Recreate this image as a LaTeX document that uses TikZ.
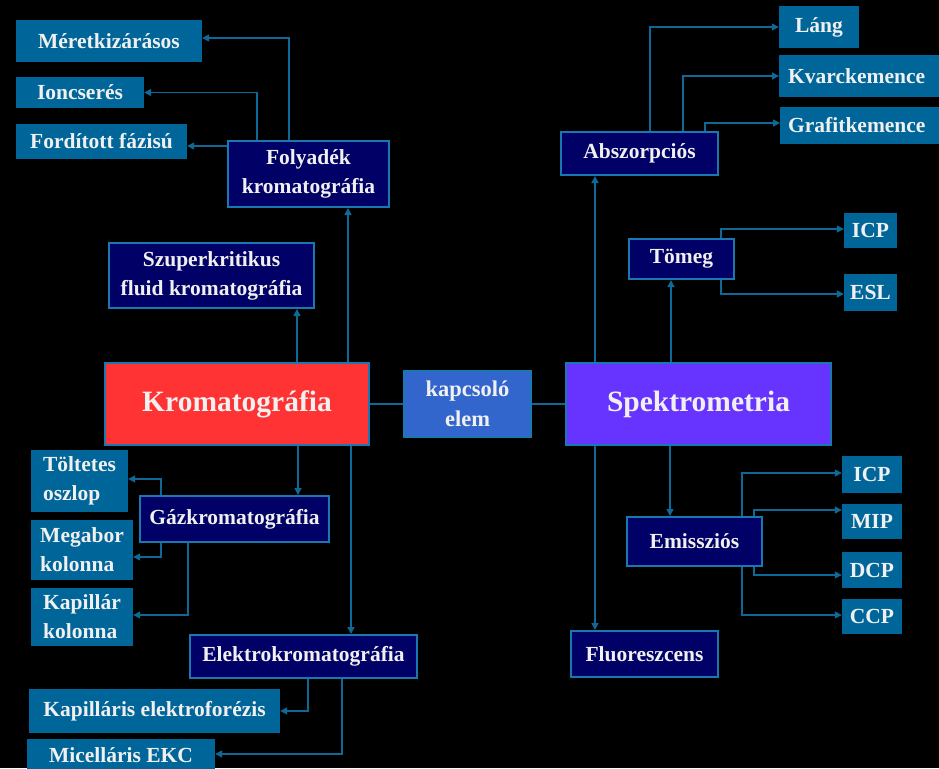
\documentclass[tikz,border=0pt]{standalone}
\usepackage{fontspec}
\setmainfont{Liberation Serif}
\usetikzlibrary{arrows.meta}
\definecolor{lboxc}{RGB}{0,102,153}
\definecolor{dboxc}{RGB}{0,0,102}
\definecolor{dbord}{RGB}{25,120,175}
\definecolor{linec}{RGB}{15,105,150}
\definecolor{txtc}{RGB}{240,240,240}
\definecolor{kromc}{RGB}{255,51,51}
\definecolor{kapc}{RGB}{51,102,204}
\definecolor{spekc}{RGB}{102,51,255}
\begin{document}
\begin{tikzpicture}[x=1pt,y=-1pt,
 base/.style={rectangle, inner sep=0pt, text=txtc, font=\bfseries\fontsize{21.5}{29}\selectfont, align=center},
 sz/.style 2 args={minimum width=#1pt, minimum height=#2pt},
 lbox/.style={base, fill=lboxc},
 dbox/.style={base, fill=dboxc, draw=dbord, line width=2pt},
 bigbox/.style={base, draw=dbord, line width=1.5pt, font=\bfseries\fontsize{29.5}{32}\selectfont},
 conn/.style={draw=linec, line width=1.5pt},
 arr/.style={conn, -{Triangle[length=7pt,width=7pt]}},
]
\fill[black] (0,0) rectangle (939,768);
\useasboundingbox (0,0) rectangle (939,768);
\clip (0,0) rectangle (939,768);

% central
\node[bigbox, fill=kromc, sz={264}{82}] (krom) at (237,404) {Kromatográfia};
\node[base, fill=kapc, draw=dbord, line width=1.5pt, sz={127}{66}, font=\bfseries\fontsize{22.5}{30}\selectfont] (kap) at (467.5,404) {kapcsoló\\elem};
\node[bigbox, fill=spekc, sz={265}{82}] (spek) at (698.5,404) {Spektrometria};

% left top
\node[lbox, sz={186}{42}] (mer) at (109,41) {Méretkizárásos};
\node[lbox, sz={128}{31}] (ion) at (80,92.5) {Ioncserés};
\node[lbox, sz={171}{35}] (ford) at (101.5,141.5) {Fordított fázisú};
\node[dbox, sz={161}{66}] (foly) at (308.5,174) {Folyadék\\kromatográfia};
\node[dbox, sz={205}{65}] (szup) at (211.5,275.5) {Szuperkritikus\\fluid kromatográfia};

% left bottom
\node[dbox, sz={189}{46}] (gaz) at (234.5,519) {Gázkromatográfia};
\node[lbox, align=left, sz={97}{62}] (tolt) at (79.5,481) {Töltetes\\oszlop};
\node[lbox, align=left, sz={102}{60}] (mega) at (82,550) {Megabor\\kolonna};
\node[lbox, align=left, sz={102}{58}] (kapil) at (82,617) {Kapillár\\kolonna};
\node[dbox, sz={227}{43}] (elek) at (303.5,656.5) {Elektrokromatográfia};
\node[lbox, sz={251}{44}] (kef) at (154.5,711) {Kapilláris elektroforézis};
\node[lbox, sz={188}{32}] (mic) at (121,755) {Micelláris EKC};

% right top
\node[dbox, sz={157}{43}] (absz) at (639.5,153.5) {Abszorpciós};
\node[lbox, sz={80}{42}] (lang) at (819,27) {Láng};
\node[lbox, anchor=west, inner xsep=9pt, text width=150pt, align=left, minimum height=42pt] (kvarc) at (779,76) {Kvarckemence};
\node[lbox, anchor=west, inner xsep=8pt, text width=150pt, align=left, minimum height=37pt] (graf) at (780,125.5) {Grafitkemence};
\node[dbox, sz={105}{40}] (tom) at (681.5,259) {Tömeg};
\node[lbox, sz={53}{35}] (icpa) at (870.5,230.5) {ICP};
\node[lbox, sz={53}{37}] (esl) at (870.5,292.5) {ESL};

% right bottom
\node[dbox, sz={135}{49}] (emi) at (694.5,541.5) {Emissziós};
\node[dbox, sz={147}{46}] (flu) at (644.5,654) {Fluoreszcens};
\node[lbox, sz={60}{37}] (icpb) at (872,474.5) {ICP};
\node[lbox, sz={60}{35}] (mip) at (872,521.5) {MIP};
\node[lbox, sz={60}{36}] (dcp) at (872,570) {DCP};
\node[lbox, sz={60}{35}] (ccp) at (872,616.5) {CCP};

% helper coordinates
\coordinate (kA) at ([xshift=111pt]krom.north);
\coordinate (kB) at ([xshift=60pt]krom.north);
\coordinate (kC) at ([xshift=61pt]krom.south);
\coordinate (kD) at ([xshift=114pt]krom.south);
\coordinate (sA) at ([xshift=-103.5pt]spek.north);
\coordinate (sB) at ([xshift=-27.5pt]spek.north);
\coordinate (sC) at ([xshift=-28.5pt]spek.south);
\coordinate (sD) at ([xshift=-103.5pt]spek.south);
\coordinate (fordE) at ([yshift=-4.5pt]ford.east);

% central links
\draw[conn] (krom) -- (kap);
\draw[conn] (kap) -- (spek);

% chromatography
\draw[arr] (kA) -- (kA |- foly.south);
\draw[arr] (kB) -- (kB |- szup.south);
\draw[arr] (kC) -- (kC |- gaz.north);
\draw[arr] (kD) -- (kD |- elek.north);
\draw[arr] ([xshift=-19.5pt]foly.north) |- ([yshift=3pt]mer.east);
\draw[arr] ([xshift=-51.5pt]foly.north) |- (ion.east);
\draw[arr] (foly.west |- fordE) -- (fordE);
\draw[arr] ([xshift=-73.5pt]gaz.north) |- ([yshift=2pt]tolt.east);
\draw[arr] ([xshift=-73.5pt]gaz.south) |- ([yshift=-7pt]mega.east);
\draw[arr] ([xshift=-46.5pt]gaz.south) |- ([yshift=2pt]kapil.east);
\draw[arr] ([xshift=4.5pt]elek.south) |- (kef.east);
\draw[arr] ([xshift=38.5pt]elek.south) |- ([yshift=1pt]mic.east);

% spectrometry
\draw[arr] (sA) -- (sA |- absz.south);
\draw[arr] (sB) -- (sB |- tom.south);
\draw[arr] (sC) -- (sC |- emi.north);
\draw[arr] (sD) -- (sD |- flu.north);
\draw[arr] ([xshift=10.5pt]absz.north) |- (lang.west);
\draw[arr] ([xshift=43.5pt]absz.north) |- (kvarc.west);
\draw[arr] ([xshift=65.5pt]absz.north) |- ([yshift=2.5pt]graf.west);
\draw[arr] ([xshift=39.5pt]tom.north) |- ([yshift=1.5pt]icpa.west);
\draw[arr] ([xshift=39.5pt]tom.south) |- ([yshift=-1.5pt]esl.west);
\draw[arr] ([xshift=47.5pt]emi.north) |- ([yshift=1.5pt]icpb.west);
\draw[arr] ([xshift=59.5pt]emi.north) |- ([yshift=11.5pt]mip.west);
\draw[arr] ([xshift=59.5pt]emi.south) |- ([yshift=-5pt]dcp.west);
\draw[arr] ([xshift=47.5pt]emi.south) |- ([yshift=1.5pt]ccp.west);
\end{tikzpicture}
\end{document}
